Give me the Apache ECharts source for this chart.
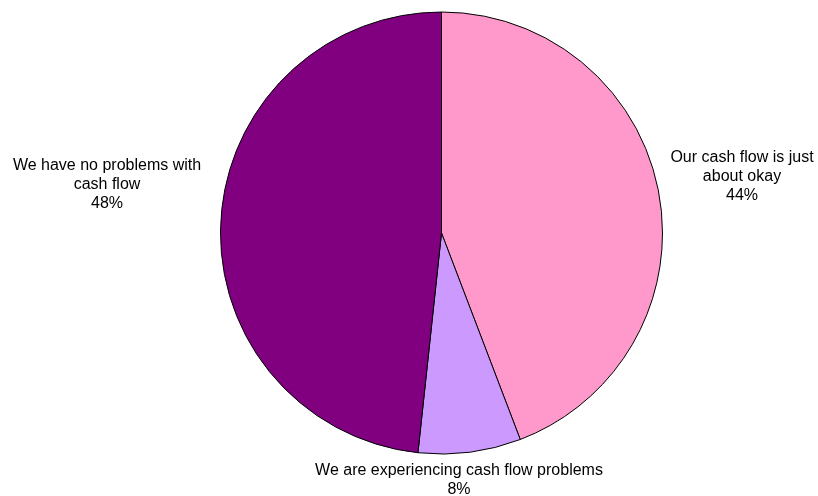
<!DOCTYPE html>
<html>
<head>
<meta charset="utf-8">
<script src="https://cdn.jsdelivr.net/npm/echarts@6/dist/echarts.min.js"></script>
<style>
html,body{margin:0;padding:0;background:#fff;}
#chart{width:818px;height:496px;}
</style>
</head>
<body>
<div id="chart"></div>
<script>
var categories = [
  "Our cash flow is just\nabout okay",
  "We are experiencing cash flow problems",
  "We have no problems with\ncash flow"
];
var values = [44.2, 7.5, 48.3];
var colors = ["#FF99CC", "#CC99FF", "#800080"];
var labelCenters = [[742, 177], [459, 480], [107, 185]];

var chart = echarts.init(document.getElementById('chart'));
chart.setOption({
  backgroundColor: '#ffffff',
  animation: false,
  series: [{
    type: 'pie',
    center: [441.5, 233],
    radius: 221,
    startAngle: 90,
    clockwise: true,
    data: categories.map(function (c, i) {
      return { name: c, value: values[i], itemStyle: { color: colors[i] } };
    }),
    itemStyle: { borderColor: '#000', borderWidth: 1 },
    label: {
      show: true,
      position: 'outside',
      overflow: 'none',
      formatter: function (p) { return p.name + '\n' + Math.round(p.value) + '%'; },
      fontFamily: 'Liberation Sans, Arial, sans-serif',
      fontSize: 16,
      lineHeight: 19,
      color: '#000',
      align: 'center'
    },
    labelLine: { show: false },
    labelLayout: function (params) {
      var c = labelCenters[params.dataIndex];
      return { x: c[0], y: c[1], align: 'center', verticalAlign: 'middle' };
    },
    emphasis: { disabled: true }
  }]
});
</script>
</body>
</html>
